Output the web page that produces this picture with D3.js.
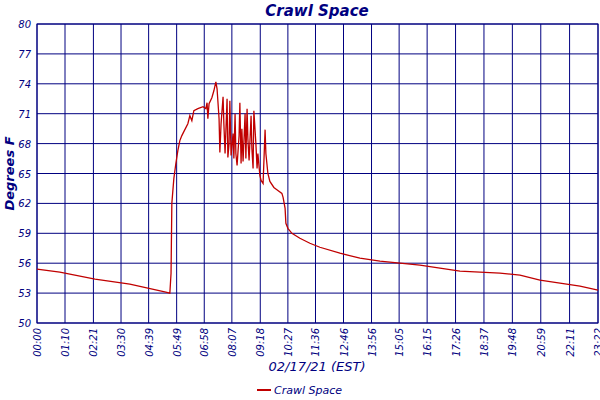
<!DOCTYPE html>
<html>
<head>
<meta charset="utf-8">
<script src="https://cdn.jsdelivr.net/npm/d3@7"></script>
<style>
body { margin: 0; background: #fff; }
text { font-family: "DejaVu Sans", sans-serif; font-style: italic; fill: #000080; }
</style>
</head>
<body>
<svg id="chart" width="600" height="400"></svg>
<script>
// readings: minutes after midnight, degrees F
const minutes = [0, 57, 145, 232, 322, 332, 335, 337, 342, 347, 352, 357, 362, 367, 377, 382, 387, 392, 402, 415, 422, 425, 427, 430, 437, 442, 447, 450, 455, 457, 460, 465, 467, 470, 475, 477, 480, 482, 485, 490, 492, 495, 497, 500, 505, 507, 510, 512, 515, 520, 522, 525, 527, 530, 535, 537, 540, 542, 547, 550, 552, 557, 560, 565, 570, 572, 577, 582, 592, 602, 612, 615, 620, 622, 627, 637, 657, 682, 707, 757, 807, 857, 907, 957, 1007, 1057, 1107, 1157, 1207, 1257, 1307, 1357, 1402];
const temps = [55.4, 55.1, 54.4, 53.9, 53.1, 53.0, 55, 62, 64.5, 66, 67.3, 68.3, 68.8, 69.2, 70, 70.8, 70.3, 71.3, 71.5, 71.7, 71.5, 72.1, 70.5, 72, 72.6, 73.3, 74.2, 73.5, 70.5, 67.1, 70, 72.7, 70, 67, 72.5, 66.6, 68, 72.3, 66.8, 69, 66.5, 71, 67, 65.8, 68.8, 72.1, 66, 69.5, 66.2, 71, 66.5, 71.5, 68.5, 66.3, 70.8, 67.5, 65.5, 71.3, 68, 65.5, 67, 64.8, 64.3, 64, 69.4, 67, 65, 64.2, 63.6, 63.3, 63, 62.6, 61.5, 60, 59.5, 59, 58.5, 58, 57.6, 57, 56.5, 56.2, 56, 55.8, 55.5, 55.2, 55.1, 55, 54.8, 54.3, 54, 53.7, 53.3];
const xTickLabels = ["00:00", "01:10", "02:21", "03:30", "04:39", "05:49", "06:58", "08:07", "09:18", "10:27", "11:36", "12:46", "13:56", "15:05", "16:15", "17:26", "18:37", "19:48", "20:59", "22:11", "23:22"];
const yTicks = [50, 53, 56, 59, 62, 65, 68, 71, 74, 77, 80];

const svg = d3.select("#chart");
const mLeft = 37, mRight = 598, mTop = 24, mBottom = 323;
const x = d3.scaleLinear().domain([0, 1402]).range([mLeft, mRight]);
const y = d3.scaleLinear().domain([50, 80]).range([mBottom, mTop]);
const tickMin = xTickLabels.map(function (s) {
  const p = s.split(":");
  return +p[0] * 60 + +p[1];
});

svg.append("g").selectAll("line").data(yTicks).join("line")
  .attr("x1", mLeft).attr("x2", mRight)
  .attr("y1", d => y(d)).attr("y2", d => y(d))
  .attr("stroke", "#000080").attr("stroke-width", 1);
svg.append("g").selectAll("line").data(tickMin).join("line")
  .attr("x1", d => x(d)).attr("x2", d => x(d))
  .attr("y1", mTop).attr("y2", mBottom)
  .attr("stroke", "#000080").attr("stroke-width", 1);
svg.append("rect").attr("x", mLeft).attr("y", mTop)
  .attr("width", mRight - mLeft).attr("height", mBottom - mTop)
  .attr("fill", "none").attr("stroke", "#000080");

svg.append("g").selectAll("text").data(yTicks).join("text")
  .attr("x", mLeft - 6).attr("y", d => y(d) + 4)
  .attr("text-anchor", "end").attr("font-size", 10)
  .text(d => d);
svg.append("g").selectAll("text").data(xTickLabels).join("text")
  .attr("transform", (d, i) => "translate(" + (x(tickMin[i]) + 4) + "," + (mBottom + 5) + ") rotate(-90)")
  .attr("text-anchor", "end").attr("font-size", 10)
  .text(d => d);

const line = d3.line().x(d => x(d[0])).y(d => y(d[1]));
svg.append("path").datum(d3.zip(minutes, temps))
  .attr("d", line).attr("fill", "none")
  .attr("stroke", "#c00000").attr("stroke-width", 1.3);

svg.append("text").attr("x", 317).attr("y", 16).attr("text-anchor", "middle")
  .attr("font-size", 15).attr("font-weight", "bold").text("Crawl Space");
svg.append("text").attr("transform", "translate(14," + ((mTop + mBottom) / 2) + ") rotate(-90)")
  .attr("text-anchor", "middle").attr("font-size", 13).attr("font-weight", "bold").text("Degrees F");
svg.append("text").attr("x", 317).attr("y", 371).attr("text-anchor", "middle")
  .attr("font-size", 13).text("02/17/21 (EST)");
svg.append("line").attr("x1", 257).attr("x2", 271).attr("y1", 390).attr("y2", 390)
  .attr("stroke", "#c00000").attr("stroke-width", 2);
svg.append("text").attr("x", 274).attr("y", 394).attr("font-size", 11).text("Crawl Space");
</script>
</body>
</html>
